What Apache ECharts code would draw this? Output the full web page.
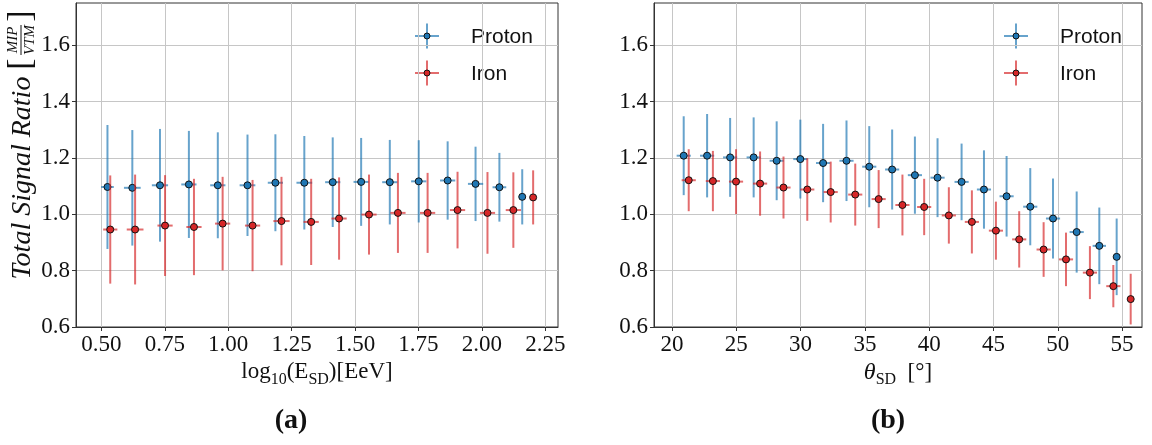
<!DOCTYPE html>
<html>
<head>
<meta charset="utf-8">
<script src="https://cdn.jsdelivr.net/npm/echarts@6/dist/echarts.min.js"></script>
<style>
  html, body { margin: 0; padding: 0; background: #ffffff; }
  #chart { width: 1152px; height: 445px; }
</style>
</head>
<body>
<div id="chart"></div>
<script>
// ---- Panel (a): ratio vs. log10 energy ----
const protonE_x    = [0.524, 0.622, 0.731, 0.845, 0.959, 1.076, 1.186, 1.300, 1.412, 1.524, 1.637, 1.751, 1.865, 1.975, 2.069, 2.159];
const protonE_y    = [1.097, 1.094, 1.103, 1.106, 1.103, 1.103, 1.112, 1.112, 1.114, 1.115, 1.114, 1.117, 1.120, 1.108, 1.096, 1.062];
const protonE_yerr = [0.220, 0.205, 0.200, 0.190, 0.188, 0.180, 0.172, 0.166, 0.159, 0.156, 0.150, 0.146, 0.139, 0.132, 0.122, 0.098];
const protonE_xerr = [0.025, 0.033, 0.032, 0.030, 0.030, 0.031, 0.030, 0.031, 0.030, 0.030, 0.030, 0.030, 0.030, 0.030, 0.027, 0.010];

const ironE_x    = [0.535, 0.633, 0.751, 0.865, 0.978, 1.096, 1.210, 1.327, 1.437, 1.555, 1.669, 1.786, 1.904, 2.022, 2.124, 2.202];
const ironE_y    = [0.946, 0.946, 0.960, 0.955, 0.967, 0.960, 0.976, 0.973, 0.985, 0.999, 1.005, 1.005, 1.015, 1.005, 1.015, 1.060];
const ironE_yerr = [0.192, 0.195, 0.179, 0.171, 0.166, 0.162, 0.157, 0.153, 0.146, 0.142, 0.142, 0.142, 0.136, 0.145, 0.134, 0.096];
const ironE_xerr = [0.028, 0.033, 0.030, 0.030, 0.030, 0.030, 0.032, 0.030, 0.030, 0.030, 0.030, 0.030, 0.030, 0.030, 0.030, 0.008];

// ---- Panel (b): ratio vs. zenith angle ----
const protonT_x    = [20.91, 22.73, 24.52, 26.35, 28.14, 29.98, 31.75, 33.57, 35.34, 37.12, 38.89, 40.65, 42.52, 44.26, 46.02, 47.86, 49.63, 51.47, 53.23, 54.58];
const protonT_y    = [1.208, 1.208, 1.202, 1.202, 1.190, 1.196, 1.182, 1.190, 1.169, 1.159, 1.139, 1.130, 1.115, 1.088, 1.064, 1.027, 0.985, 0.937, 0.888, 0.849];
const protonT_yerr = [0.140, 0.148, 0.140, 0.142, 0.140, 0.140, 0.139, 0.143, 0.144, 0.142, 0.137, 0.140, 0.136, 0.139, 0.143, 0.137, 0.142, 0.144, 0.136, 0.136];
const protonT_xerr = [0.55, 0.55, 0.55, 0.55, 0.55, 0.55, 0.55, 0.55, 0.55, 0.55, 0.55, 0.55, 0.55, 0.55, 0.55, 0.55, 0.55, 0.55, 0.52, 0.20];

const ironT_x    = [21.30, 23.18, 24.98, 26.85, 28.67, 30.52, 32.34, 34.25, 36.07, 37.92, 39.61, 41.53, 43.32, 45.19, 47.00, 48.90, 50.64, 52.50, 54.32, 55.67];
const ironT_y    = [1.121, 1.118, 1.116, 1.109, 1.095, 1.088, 1.079, 1.070, 1.054, 1.033, 1.026, 0.996, 0.973, 0.942, 0.911, 0.875, 0.840, 0.793, 0.745, 0.699];
const ironT_yerr = [0.110, 0.107, 0.115, 0.114, 0.110, 0.111, 0.108, 0.110, 0.103, 0.108, 0.100, 0.100, 0.112, 0.103, 0.100, 0.097, 0.095, 0.094, 0.075, 0.090];
const ironT_xerr = [0.55, 0.55, 0.55, 0.55, 0.55, 0.55, 0.55, 0.55, 0.55, 0.55, 0.55, 0.55, 0.55, 0.55, 0.55, 0.55, 0.55, 0.55, 0.55, 0.15];

// tick positions
const ticksE     = [0.50, 0.75, 1.00, 1.25, 1.50, 1.75, 2.00, 2.25];
const ticksTheta = [20, 25, 30, 35, 40, 45, 50, 55];
const ticksRatio = [0.6, 0.8, 1.0, 1.2, 1.4, 1.6];

const seriesNames = ['Proton', 'Iron'];

// colours
const BLUE = '#1f77b4', BLUE_BAR = 'rgba(31,119,180,0.68)';
const RED  = '#d62728', RED_BAR  = 'rgba(214,39,40,0.68)';
const INK  = '#111111';
const SERIF = '"Liberation Serif", "Times New Roman", serif';
const SANS  = '"Liberation Sans", Arial, sans-serif';

function rows(xs, ys, xe, ye) {
  return xs.map((x, i) => [x, ys[i], xe[i], ye[i]]);
}
function points(xs, ys) {
  return xs.map((x, i) => [x, ys[i]]);
}

// error bar cross (x and y uncertainties) drawn through the axis scales
function errorBars(color) {
  return function (params, api) {
    const x = api.value(0), y = api.value(1), xe = api.value(2), ye = api.value(3);
    const top = api.coord([x, y + ye]), bot = api.coord([x, y - ye]);
    const lft = api.coord([x - xe, y]), rgt = api.coord([x + xe, y]);
    return {
      type: 'group',
      children: [
        { type: 'line', shape: { x1: top[0], y1: top[1], x2: bot[0], y2: bot[1] },
          style: { stroke: color, lineWidth: 2 } },
        { type: 'line', shape: { x1: lft[0], y1: lft[1], x2: rgt[0], y2: rgt[1] },
          style: { stroke: color, lineWidth: 2 } }
      ]
    };
  };
}

function barSeries(idx, data, color, z) {
  return {
    type: 'custom', xAxisIndex: idx, yAxisIndex: idx, z: z,
    renderItem: errorBars(color), data: data,
    encode: { x: 0, y: 1 }, silent: true, animation: false
  };
}
function dotSeries(idx, name, data, color, z) {
  return {
    type: 'scatter', name: name, xAxisIndex: idx, yAxisIndex: idx, z: z,
    data: data, symbol: 'circle', symbolSize: 7,
    itemStyle: { color: color, borderColor: INK, borderWidth: 1, opacity: 1 },
    emphasis: { disabled: true }, silent: true, animation: false
  };
}

function xAxisFor(idx, min, max, ticks, fmt, name, rich, nameGap) {
  return {
    type: 'value', gridIndex: idx, min: min, max: max,
    name: name, nameLocation: 'middle', nameGap: nameGap,
    nameTextStyle: { rich: rich },
    axisLine: { show: true, onZero: false, lineStyle: { color: '#333', width: 1 } },
    axisTick: { show: true, length: 4, customValues: ticks, lineStyle: { color: '#333' } },
    axisLabel: { customValues: ticks, formatter: fmt, color: INK, fontFamily: SERIF, fontSize: 23, margin: 6 },
    splitLine: { show: true, lineStyle: { color: '#c6c6c6', width: 1 } }
  };
}
function yAxisFor(idx) {
  return {
    type: 'value', gridIndex: idx, min: 0.6, max: 1.75,
    axisLine: { show: true, onZero: false, lineStyle: { color: '#333', width: 1 } },
    axisTick: { show: true, length: 4, customValues: ticksRatio, lineStyle: { color: '#333' } },
    axisLabel: { customValues: ticksRatio, formatter: v => v.toFixed(1), color: INK,
                 fontFamily: SERIF, fontSize: 23, margin: 6 },
    splitLine: { show: true, lineStyle: { color: '#c6c6c6', width: 1 } }
  };
}

const titleRich = {
  m:  { fontFamily: SERIF, fontSize: 23, color: INK, lineHeight: 30 },
  mi: { fontFamily: SERIF, fontSize: 24, fontStyle: 'italic', color: INK, lineHeight: 30 },
  s:  { fontFamily: SERIF, fontSize: 16, color: INK, lineHeight: 30, verticalAlign: 'bottom' }
};

// legend entry: error-bar cross with a dot, then the label
function legendEntry(cx, cy, barColor, dotColor, label) {
  return [
    { type: 'line', shape: { x1: cx - 12, y1: cy, x2: cx + 12, y2: cy }, style: { stroke: barColor, lineWidth: 2 } },
    { type: 'line', shape: { x1: cx, y1: cy - 12.5, x2: cx, y2: cy + 12.5 }, style: { stroke: barColor, lineWidth: 2 } },
    { type: 'circle', shape: { cx: cx, cy: cy, r: 3 }, style: { fill: dotColor, stroke: INK, lineWidth: 1 } },
    { type: 'text', x: cx + 44, y: cy + 1,
      style: { text: label, font: '21px ' + SANS, fill: INK, align: 'left', verticalAlign: 'middle' } }
  ];
}

const graphics = []
  .concat(legendEntry(427, 36, BLUE_BAR, BLUE, seriesNames[0]))
  .concat(legendEntry(427, 73, RED_BAR, RED, seriesNames[1]))
  .concat(legendEntry(1016, 36, BLUE_BAR, BLUE, seriesNames[0]))
  .concat(legendEntry(1016, 73, RED_BAR, RED, seriesNames[1]));

// rotated y-axis title with a bracketed unit fraction
graphics.push({
  type: 'group', x: 23, y: 146, rotation: Math.PI / 2,
  children: [
    { type: 'text', x: -32, y: 0,
      style: { text: 'Total Signal Ratio', font: 'italic 28px ' + SERIF, fill: INK, align: 'center', verticalAlign: 'middle' } },
    { type: 'text', x: 82, y: -2,
      style: { text: '[', font: '34px ' + SERIF, fill: INK, align: 'center', verticalAlign: 'middle' } },
    { type: 'text', x: 106, y: -10,
      style: { text: 'MIP', font: 'italic 15px ' + SERIF, fill: INK, align: 'center', verticalAlign: 'middle' } },
    { type: 'line', shape: { x1: 91, y1: -2, x2: 121, y2: -2 }, style: { stroke: INK, lineWidth: 1 } },
    { type: 'text', x: 106, y: 7,
      style: { text: 'VTM', font: 'italic 15px ' + SERIF, fill: INK, align: 'center', verticalAlign: 'middle' } },
    { type: 'text', x: 130, y: -2,
      style: { text: ']', font: '34px ' + SERIF, fill: INK, align: 'center', verticalAlign: 'middle' } }
  ]
});

// sub-figure captions
graphics.push({ type: 'text', x: 291, y: 421,
  style: { text: '(a)', font: 'bold 28px ' + SERIF, fill: INK, align: 'center', verticalAlign: 'middle' } });
graphics.push({ type: 'text', x: 888, y: 421,
  style: { text: '(b)', font: 'bold 28px ' + SERIF, fill: INK, align: 'center', verticalAlign: 'middle' } });

const chart = echarts.init(document.getElementById('chart'), null, { renderer: 'canvas' });
chart.setOption({
  animation: false,
  backgroundColor: '#ffffff',
  grid: [
    { left: 76, right: 594, top: 3, bottom: 118, show: true, borderColor: '#333', borderWidth: 1, containLabel: false },
    { left: 654, right: 10, top: 3, bottom: 118, show: true, borderColor: '#333', borderWidth: 1, containLabel: false }
  ],
  xAxis: [
    xAxisFor(0, 0.40, 2.30, ticksE, v => v.toFixed(2),
      '{m|log}{s|10}{m|(E}{s|SD}{m|)[EeV]}', titleRich, 30),
    xAxisFor(1, 18.6, 56.55, ticksTheta, v => String(v),
      '{mi|θ}{s|SD}{m|  [°]}', titleRich, 30)
  ],
  yAxis: [yAxisFor(0), yAxisFor(1)],
  series: [
    barSeries(0, rows(protonE_x, protonE_y, protonE_xerr, protonE_yerr), BLUE_BAR, 2),
    dotSeries(0, seriesNames[0], points(protonE_x, protonE_y), BLUE, 3),
    barSeries(0, rows(ironE_x, ironE_y, ironE_xerr, ironE_yerr), RED_BAR, 4),
    dotSeries(0, seriesNames[1], points(ironE_x, ironE_y), RED, 5),
    barSeries(1, rows(protonT_x, protonT_y, protonT_xerr, protonT_yerr), BLUE_BAR, 2),
    dotSeries(1, seriesNames[0], points(protonT_x, protonT_y), BLUE, 3),
    barSeries(1, rows(ironT_x, ironT_y, ironT_xerr, ironT_yerr), RED_BAR, 4),
    dotSeries(1, seriesNames[1], points(ironT_x, ironT_y), RED, 5)
  ],
  graphic: graphics
});
</script>
</body>
</html>
